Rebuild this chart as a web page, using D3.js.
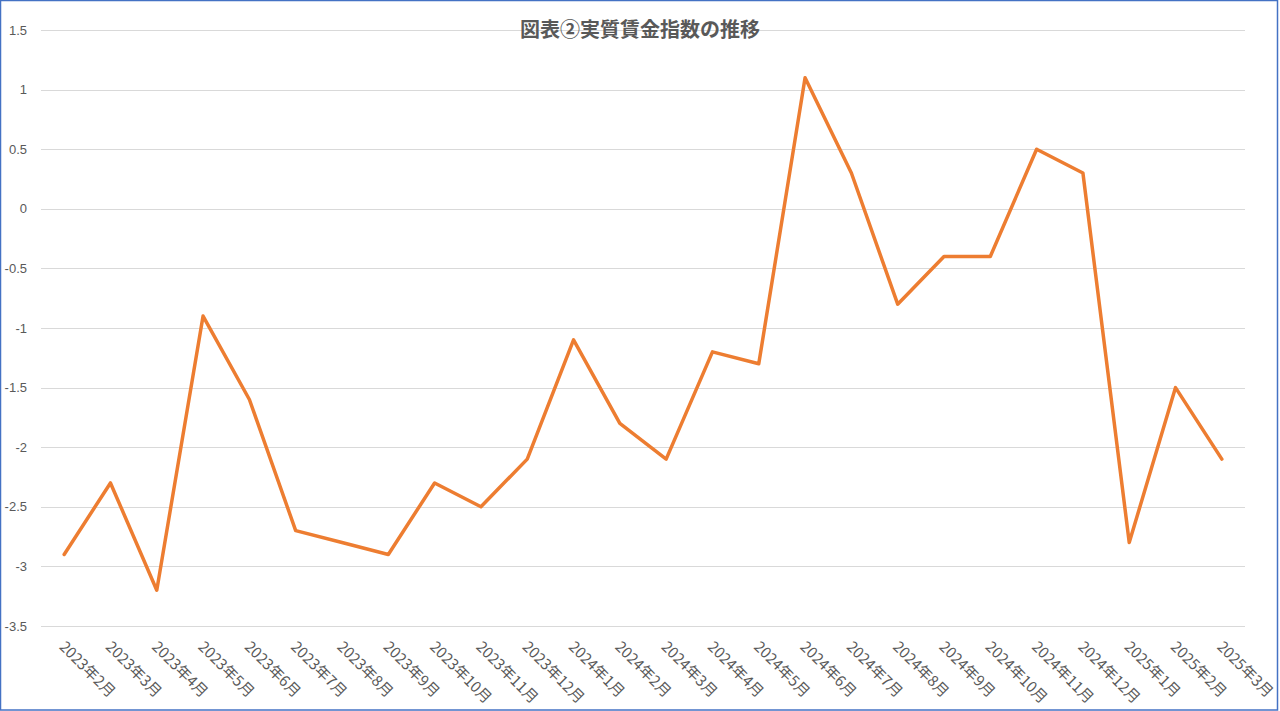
<!DOCTYPE html>
<html>
<head>
<meta charset="utf-8">
<script src="https://cdn.jsdelivr.net/npm/d3@7"></script>
<style>
  html, body { margin: 0; padding: 0; background: #fff; }
  svg { display: block; font-family: "Noto Sans CJK JP", "Noto Sans", sans-serif; }
</style>
</head>
<body>
<div id="chart"></div>
<script>
const WIDTH = 1280;
const HEIGHT = 711;

const title = '図表②実質賃金指数の推移';

// months shown on the category axis
const months = [
	'2023年2月', '2023年3月', '2023年4月', '2023年5月', '2023年6月', '2023年7月',
	'2023年8月', '2023年9月', '2023年10月', '2023年11月', '2023年12月',
	'2024年1月', '2024年2月', '2024年3月', '2024年4月', '2024年5月', '2024年6月',
	'2024年7月', '2024年8月', '2024年9月', '2024年10月', '2024年11月', '2024年12月',
	'2025年1月', '2025年2月', '2025年3月'
];

// real wage index, year on year %
const values = [
	-2.9, -2.3, -3.2, -0.9, -1.6, -2.7,
	-2.8, -2.9, -2.3, -2.5, -2.1,
	-1.1, -1.8, -2.1, -1.2, -1.3, 1.1,
	0.3, -0.8, -0.4, -0.4, 0.5, 0.3,
	-2.8, -1.5, -2.1
];

const yTicks = [1.5, 1, 0.5, 0, -0.5, -1, -1.5, -2, -2.5, -3, -3.5];

const margin = { left: 41, right: 35, top: 30, bottom: 85 };

const svg = d3.select('#chart').append('svg')
	.attr('width', WIDTH)
	.attr('height', HEIGHT);

// outer frame
svg.append('rect')
	.attr('x', 0.5).attr('y', 0.5)
	.attr('width', WIDTH - 3).attr('height', HEIGHT - 1.5)
	.attr('fill', '#fff')
	.attr('stroke', '#4472c4')
	.attr('stroke-width', 1.5);

const x = d3.scaleBand()
	.domain(months)
	.range([margin.left, WIDTH - margin.right]);

const y = d3.scaleLinear()
	.domain([-3.5, 1.5])
	.range([HEIGHT - margin.bottom, margin.top]);

// gridlines
svg.append('g').attr('class', 'grid')
	.selectAll('line')
	.data(yTicks)
	.enter()
	.append('line')
		.attr('x1', margin.left)
		.attr('x2', WIDTH - margin.right)
		.attr('y1', d => Math.round(y(d)) + 0.5)
		.attr('y2', d => Math.round(y(d)) + 0.5)
		.attr('stroke', '#d9d9d9')
		.attr('stroke-width', 1);

// y axis labels
const yAxis = d3.axisLeft(y).tickValues(yTicks).tickSize(0).tickPadding(14)
	.tickFormat(d => String(d));
const yg = svg.append('g')
	.attr('transform', 'translate(' + margin.left + ',0)')
	.call(yAxis);
yg.select('.domain').remove();
yg.selectAll('text')
	.attr('fill', '#595959')
	.style('font-size', '13px');

// x axis labels, rotated
const xg = svg.append('g').attr('class', 'x-axis');
xg.selectAll('text')
	.data(months)
	.enter()
	.append('text')
		.attr('transform', d => 'translate(' + (x(d) + x.bandwidth() / 2 - 2) + ',' + (HEIGHT - margin.bottom + 18) + ') rotate(45)')
		.attr('text-anchor', 'start')
		.attr('dy', '0.35em')
		.attr('fill', '#595959')
		.style('font-size', '15px')
		.text(d => d);

// the line
const line = d3.line()
	.x((d, i) => x(months[i]) + x.bandwidth() / 2)
	.y(d => y(d));

svg.append('path')
	.datum(values)
	.attr('d', line)
	.attr('fill', 'none')
	.attr('stroke', '#ed7d31')
	.attr('stroke-width', 3.5)
	.attr('stroke-linejoin', 'round')
	.attr('stroke-linecap', 'round');

// title
svg.append('text')
	.attr('x', 640)
	.attr('y', 30)
	.attr('text-anchor', 'middle')
	.attr('dy', '0.35em')
	.attr('fill', '#595959')
	.style('font-size', '20px')
	.style('font-weight', 'bold')
	.text(title);
</script>
</body>
</html>
